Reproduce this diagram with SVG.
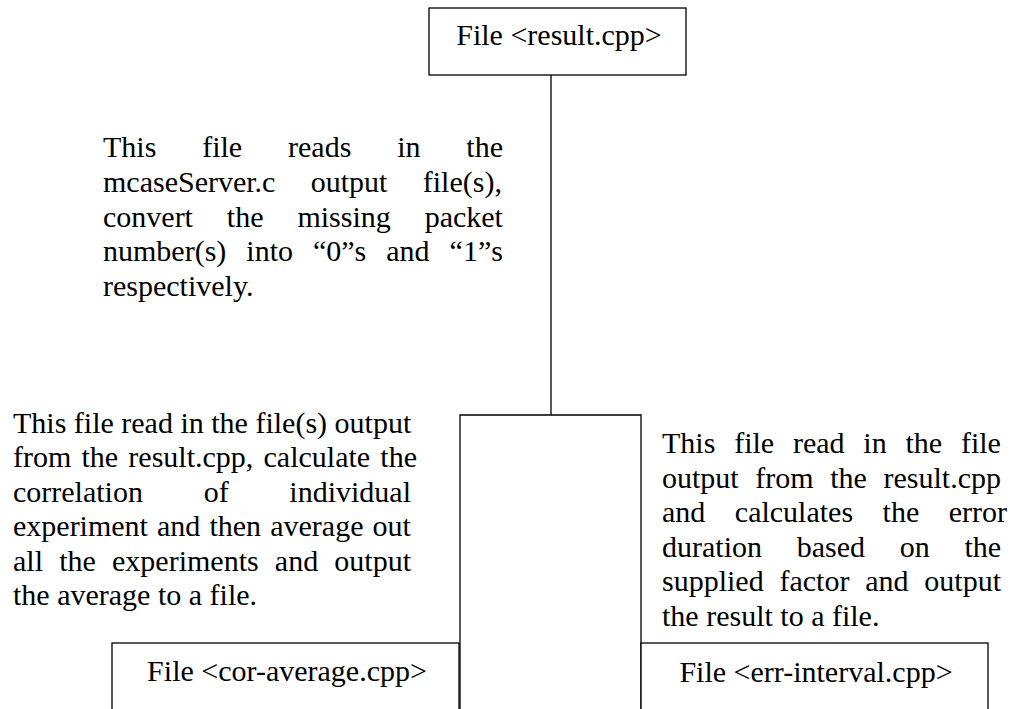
<svg xmlns="http://www.w3.org/2000/svg" width="1010" height="709" viewBox="0 0 1010 709">
<style>
text{font-family:"Liberation Serif","Times New Roman",serif;font-size:30px;fill:#000}
.box{fill:#fff;stroke:#000;stroke-width:1.3}
.conn{fill:none;stroke:#000;stroke-width:1.3}
.c{text-anchor:middle}
</style>
<rect width="1010" height="709" fill="#fff"/>
<g id="connectors">
<line class="conn" x1="551" y1="75" x2="551" y2="415"/>
<polyline class="conn" points="460,720 460,415 641,415 641,720"/>
</g>
<g id="result">
<rect class="box" x="429" y="8" width="257" height="67"/>
<text class="c" x="559" y="45">File &lt;result.cpp&gt;</text>
</g>
<g id="result-desc">
<text x="103" y="157" word-spacing="38.35">This file reads in the</text>
<text x="103" y="192" word-spacing="27.85">mcaseServer.c output file(s),</text>
<text x="103" y="226.5" word-spacing="26.4">convert the missing packet</text>
<text x="103" y="261" word-spacing="12.5">number(s) into “0”s and “1”s</text>
<text x="103" y="295.5">respectively.</text>
</g>
<g id="cor-average-desc">
<text x="13" y="432.5">This file read in the file(s) output</text>
<text x="13" y="467" word-spacing="2.7">from the result.cpp, calculate the</text>
<text x="13" y="501.5" word-spacing="53.2">correlation of individual</text>
<text x="13" y="536" word-spacing="1.6">experiment and then average out</text>
<text x="13" y="570.5" word-spacing="8.7">all the experiments and output</text>
<text x="13" y="605">the average to a file.</text>
</g>
<g id="err-interval-desc">
<text x="662" y="453" word-spacing="11.3">This file read in the file</text>
<text x="662" y="487.5" word-spacing="9.13">output from the result.cpp</text>
<text x="662" y="522" word-spacing="22">and calculates the error</text>
<text x="662" y="556.5" word-spacing="27.2">duration based on the</text>
<text x="662" y="591" word-spacing="8.3">supplied factor and output</text>
<text x="662" y="625.5">the result to a file.</text>
</g>
<g id="cor-average">
<rect class="box" x="112" y="643" width="347" height="80"/>
<text class="c" x="287" y="681">File &lt;cor-average.cpp&gt;</text>
</g>
<g id="err-interval">
<rect class="box" x="641" y="643" width="347" height="80"/>
<text class="c" x="816" y="682">File &lt;err-interval.cpp&gt;</text>
</g>
</svg>
